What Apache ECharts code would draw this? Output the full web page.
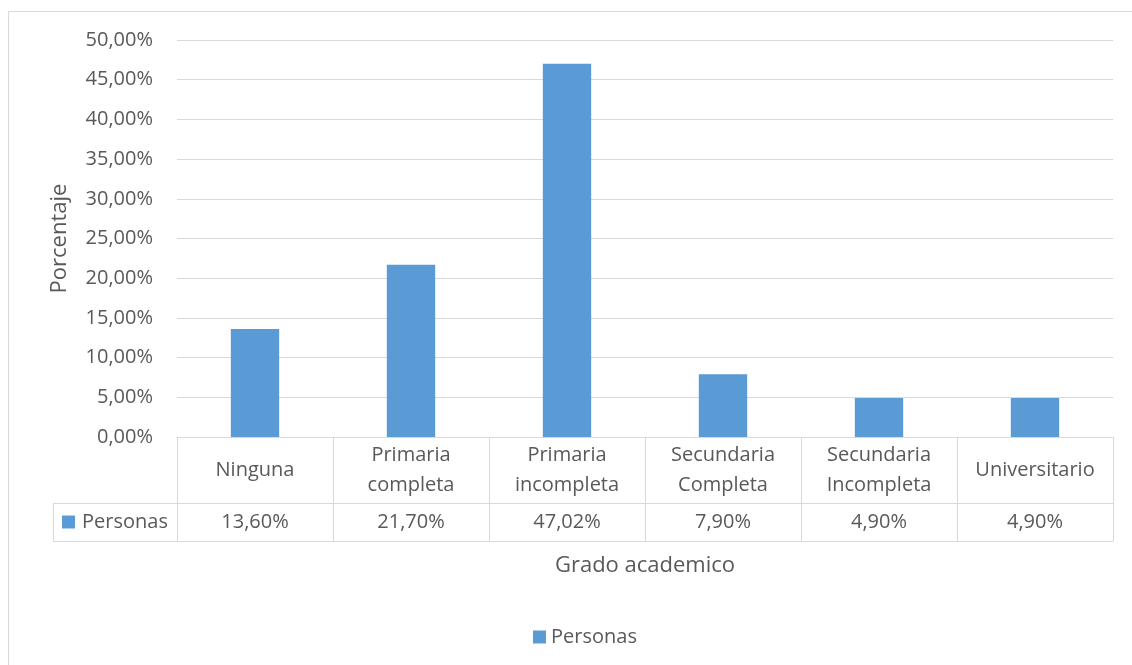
<!DOCTYPE html>
<html>
<head>
<meta charset="utf-8">
<script src="https://cdn.jsdelivr.net/npm/echarts@6/dist/echarts.min.js"></script>
<style>
  html, body { margin: 0; padding: 0; background: #ffffff; }
  #chart { width: 1132px; height: 665px; }
</style>
</head>
<body>
<div id="chart"></div>
<script>
// Education level categories (line breaks as shown in the data table)
const categories = ['Ninguna', 'Primaria\ncompleta', 'Primaria\nincompleta', 'Secundaria\nCompleta', 'Secundaria\nIncompleta', 'Universitario'];
// Share of people per level, in percent
const personas = [13.60, 21.70, 47.02, 7.90, 4.90, 4.90];
const seriesName = 'Personas';
const yMin = 0, yMax = 50, yStep = 5;

const FONT = '"Open Sans", "Noto Sans", sans-serif';
const TXT = '#595959';
const LINE = '#d9d9d9';
const BAR = '#5b9bd5';
const FS = 20;        // label size
const FS_TITLE = 22;  // axis title size

const fmt = v => v.toFixed(2).replace('.', ',') + '%';

const chart = echarts.init(document.getElementById('chart'), null, { renderer: 'canvas' });

const GRID = { left: 177, right: 19, top: 40, bottom: 228 };
const HEAD_ROW = 66;   // height of the category row in the data table
const VAL_ROW = 38;    // height of the value row

chart.setOption({
  animation: false,
  textStyle: { fontFamily: FONT, color: TXT },
  grid: GRID,
  legend: {
    data: [seriesName],
    left: 528, top: 622,
    itemWidth: 13, itemHeight: 13, itemGap: 6,
    icon: 'rect',
    textStyle: { fontFamily: FONT, fontSize: FS, color: TXT }
  },
  xAxis: [
    {
      type: 'category', data: categories, position: 'bottom',
      axisLine: { show: true, lineStyle: { color: LINE, width: 1 } },
      axisTick: { show: true, length: HEAD_ROW + VAL_ROW, lineStyle: { color: LINE, width: 1 } },
      axisLabel: { margin: HEAD_ROW / 2, verticalAlign: 'middle', fontFamily: FONT, fontSize: FS, color: TXT, lineHeight: 30, interval: 0 },
      name: 'Grado academico', nameLocation: 'middle', nameGap: 118,
      nameTextStyle: { fontFamily: FONT, fontSize: FS_TITLE, color: TXT }
    },
    {
      type: 'category', data: personas.map(fmt), position: 'bottom', offset: HEAD_ROW,
      axisLine: { show: true, lineStyle: { color: LINE, width: 1 } },
      axisTick: { show: false },
      axisLabel: { margin: VAL_ROW / 2, verticalAlign: 'middle', fontFamily: FONT, fontSize: FS, color: TXT, interval: 0 }
    },
    {
      type: 'category', data: categories, position: 'bottom', offset: HEAD_ROW + VAL_ROW,
      axisLine: { show: true, lineStyle: { color: LINE, width: 1 } },
      axisTick: { show: false }, axisLabel: { show: false }
    }
  ],
  yAxis: {
    type: 'value', min: yMin, max: yMax, interval: yStep,
    axisLine: { show: false }, axisTick: { show: false },
    splitLine: { lineStyle: { color: LINE, width: 1 } },
    axisLabel: { formatter: fmt, margin: 24, fontFamily: FONT, fontSize: FS, color: TXT },
    name: 'Porcentaje', nameLocation: 'middle', nameGap: 106,
    nameTextStyle: { fontFamily: FONT, fontSize: FS_TITLE, color: TXT }
  },
  series: [{
    name: seriesName, type: 'bar', data: personas, barWidth: '31%',
    itemStyle: { color: BAR }
  }]
});

// Outer chart border and the series-name cell of the data table
const tableLeft = GRID.left;
const rowTop = 665 - GRID.bottom + HEAD_ROW;
const rowBot = rowTop + VAL_ROW;
chart.setOption({
  graphic: [
    { type: 'rect', shape: { x: 8.5, y: 11.5, width: 1140, height: 670 }, style: { fill: null, stroke: LINE, lineWidth: 1 }, silent: true },
    { type: 'line', shape: { x1: 53, y1: rowTop + 0.5, x2: tableLeft, y2: rowTop + 0.5 }, style: { stroke: LINE, lineWidth: 1 }, silent: true },
    { type: 'line', shape: { x1: 53, y1: rowBot + 0.5, x2: tableLeft, y2: rowBot + 0.5 }, style: { stroke: LINE, lineWidth: 1 }, silent: true },
    { type: 'line', shape: { x1: 53.5, y1: rowTop, x2: 53.5, y2: rowBot + 1 }, style: { stroke: LINE, lineWidth: 1 }, silent: true },
    { type: 'rect', shape: { x: 62, y: rowTop + VAL_ROW / 2 - 6.5, width: 13, height: 13 }, style: { fill: BAR }, silent: true },
    { type: 'text', x: 82, y: rowTop + VAL_ROW / 2, style: { text: seriesName, fontFamily: FONT, fontSize: FS, fill: TXT, verticalAlign: 'middle', align: 'left' }, silent: true }
  ]
});
</script>
</body>
</html>
